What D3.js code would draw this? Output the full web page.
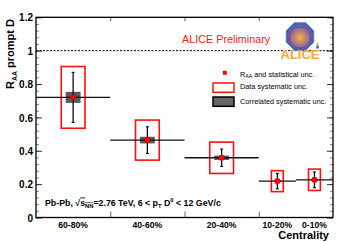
<!DOCTYPE html>
<html lang="en">
  <head>
    <meta charset="utf-8">
    <title>ALICE prompt D RAA vs centrality</title>
    <script type="text/javascript" src="https://d3js.org/d3.v7.min.js"></script>
    <style type="text/css">
    body {
      margin: 0;
      background: white;
    }
    text {
      font-family: "Liberation Sans", Arial, sans-serif;
    }
    .tick text {
      font-family: "Liberation Sans", Arial, sans-serif;
      font-size: 10px;
      font-weight: bold;
    }
    .axis path {
      display: none;
    }
    </style>
  </head>
  <body>
    <svg width="357" height="242" id="chart"></svg>

    <script type="text/javascript">

    // centrality classes (percent)
    const classLabels = ["60-80%", "40-60%", "20-40%", "10-20%", "0-10%"];
    const binLow = [60, 40, 20, 10, 0];
    const binHigh = [80, 60, 40, 20, 10];

    // R_AA and uncertainties
    const raa = [0.72, 0.464, 0.358, 0.218, 0.226];
    const statErr = [0.15, 0.08, 0.052, 0.046, 0.047];
    const sysErr = [0.185, 0.12, 0.094, 0.063, 0.064];
    const corrErr = [0.033, 0.02, 0.013, 0.005, 0.005];

    const yMajor = [0, 0.2, 0.4, 0.6, 0.8, 1, 1.2];
    const yMinor = d3.range(0, 1.2001, 0.04);
    const xTicks = [60, 40, 20];

    const mLeft = 36, mRight = 333, mTop = 17.3, mBottom = 217.5;

    const xScale = d3.scaleLinear()
        .domain([80, 0])
        .range([mLeft, mRight]);

    const yScale = d3.scaleLinear()
        .domain([0, 1.2])
        .range([mBottom, mTop]);

    const svg = d3.select("#chart");

    const dataset = classLabels.map((c, i) => ({
      label: c,
      lo: binLow[i],
      hi: binHigh[i],
      mid: (binLow[i] + binHigh[i]) / 2,
      v: raa[i],
      stat: statErr[i],
      sys: sysErr[i],
      corr: corrErr[i]
    }));

    // gradients for the logo
    const defs = svg.append("defs");
    const og = defs.append("radialGradient").attr("id", "octg");
    og.append("stop").attr("offset", "0%").attr("stop-color", "#9aa6d8");
    og.append("stop").attr("offset", "100%").attr("stop-color", "#3d5cae");
    const cg = defs.append("radialGradient").attr("id", "circg");
    cg.append("stop").attr("offset", "0%").attr("stop-color", "#ffb030");
    cg.append("stop").attr("offset", "45%").attr("stop-color", "#c98a6a");
    cg.append("stop").attr("offset", "100%").attr("stop-color", "#6f6fa8");

    // axes: minor and major ticks on all sides
    svg.append("g")
        .attr("class", "axis")
        .attr("transform", "translate(" + mLeft + ",0)")
        .call(d3.axisLeft(yScale).tickValues(yMinor).tickSize(-3).tickFormat(""))
        .selectAll("line").attr("stroke", "#888");

    svg.append("g")
        .attr("class", "axis")
        .attr("transform", "translate(" + mRight + ",0)")
        .call(d3.axisRight(yScale).tickValues(yMinor).tickSize(-3).tickFormat(""))
        .selectAll("line").attr("stroke", "#888");

    const yAxisL = svg.append("g")
        .attr("class", "axis")
        .attr("transform", "translate(" + mLeft + ",0)")
        .call(d3.axisLeft(yScale).tickValues(yMajor).tickSizeInner(-6).tickSizeOuter(0)
          .tickPadding(3).tickFormat(d => d3.format("~g")(d)));
    yAxisL.selectAll("line").attr("stroke", "#333");
    yAxisL.selectAll("text").attr("fill", "black").attr("dy", "0.36em");

    svg.append("g")
        .attr("class", "axis")
        .attr("transform", "translate(" + mRight + ",0)")
        .call(d3.axisRight(yScale).tickValues(yMajor).tickSize(-6).tickFormat(""))
        .selectAll("line").attr("stroke", "#333");

    svg.append("g")
        .attr("class", "axis")
        .attr("transform", "translate(0," + mBottom + ")")
        .call(d3.axisBottom(xScale).tickValues(xTicks).tickSize(-6).tickFormat(""))
        .selectAll("line").attr("stroke", "#666");

    svg.append("g")
        .attr("class", "axis")
        .attr("transform", "translate(0," + mTop + ")")
        .call(d3.axisTop(xScale).tickValues(xTicks).tickSize(-4).tickFormat(""))
        .selectAll("line").attr("stroke", "#666");

    // frame
    svg.append("rect")
        .attr("x", mLeft)
        .attr("y", mTop)
        .attr("width", mRight - mLeft)
        .attr("height", mBottom - mTop)
        .attr("fill", "none")
        .attr("stroke", "black")
        .attr("stroke-width", 1.3);

    // R_AA = 1 reference
    svg.append("line")
        .attr("x1", mLeft)
        .attr("x2", mRight)
        .attr("y1", yScale(1))
        .attr("y2", yScale(1))
        .attr("stroke", "black")
        .attr("stroke-width", 1)
        .attr("stroke-dasharray", "2,1.5");

    // data systematic boxes
    svg.selectAll("rect.sys")
        .data(dataset)
        .enter()
        .append("rect")
        .attr("class", "sys")
        .attr("x", d => xScale(d.mid) - 0.16 * (xScale(d.lo) - xScale(d.hi)))
        .attr("width", d => 0.32 * (xScale(d.lo) - xScale(d.hi)))
        .attr("y", d => yScale(d.v + d.sys))
        .attr("height", d => yScale(d.v - d.sys) - yScale(d.v + d.sys))
        .attr("fill", "none")
        .attr("stroke", "#ff1010")
        .attr("stroke-width", 1.6);

    // correlated systematic boxes
    svg.selectAll("rect.corr")
        .data(dataset)
        .enter()
        .append("rect")
        .attr("class", "corr")
        .attr("x", d => xScale(d.mid) - 0.1 * (xScale(d.lo) - xScale(d.hi)))
        .attr("width", d => 0.2 * (xScale(d.lo) - xScale(d.hi)))
        .attr("y", d => yScale(d.v + d.corr))
        .attr("height", d => yScale(d.v - d.corr) - yScale(d.v + d.corr))
        .attr("fill", "#5a5a5a");

    // horizontal bin width bars
    svg.selectAll("line.hbar")
        .data(dataset)
        .enter()
        .append("line")
        .attr("class", "hbar")
        .attr("x1", d => xScale(d.hi))
        .attr("x2", d => xScale(d.lo))
        .attr("y1", d => yScale(d.v))
        .attr("y2", d => yScale(d.v))
        .attr("stroke", "#111")
        .attr("stroke-width", 1.3);

    // statistical error bars
    svg.selectAll("line.vbar")
        .data(dataset)
        .enter()
        .append("line")
        .attr("class", "vbar")
        .attr("x1", d => xScale(d.mid))
        .attr("x2", d => xScale(d.mid))
        .attr("y1", d => yScale(d.v + d.stat))
        .attr("y2", d => yScale(d.v - d.stat))
        .attr("stroke", "#111")
        .attr("stroke-width", 1.3);

    [1, -1].forEach(s => {
      svg.selectAll("line.cap" + (s > 0 ? "u" : "d"))
          .data(dataset)
          .enter()
          .append("line")
          .attr("x1", d => xScale(d.mid) - 1.5)
          .attr("x2", d => xScale(d.mid) + 1.5)
          .attr("y1", d => yScale(d.v + s * d.stat))
          .attr("y2", d => yScale(d.v + s * d.stat))
          .attr("stroke", "#111")
          .attr("stroke-width", 1.2);
    });

    // markers
    svg.selectAll("rect.pt")
        .data(dataset)
        .enter()
        .append("rect")
        .attr("class", "pt")
        .attr("x", d => xScale(d.mid) - 2.6)
        .attr("y", d => yScale(d.v) - 2.6)
        .attr("width", 5.2)
        .attr("height", 5.2)
        .attr("fill", "#ff0000");

    // category labels
    svg.selectAll("text.cat")
        .data(dataset)
        .enter()
        .append("text")
        .attr("class", "cat")
        .attr("x", d => xScale(d.mid))
        .attr("y", 227.5)
        .attr("text-anchor", "middle")
        .attr("font-size", "8.6px")
        .attr("font-weight", "bold")
        .text(d => d.label);

    svg.append("text")
        .attr("x", 329)
        .attr("y", 238.5)
        .attr("text-anchor", "end")
        .attr("font-size", "11px")
        .attr("font-weight", "bold")
        .text("Centrality");

    // y title
    const ytitle = svg.append("text")
        .attr("transform", "translate(14,19) rotate(-90)")
        .attr("text-anchor", "end")
        .attr("font-size", "11px")
        .attr("font-weight", "bold");
    ytitle.append("tspan").text("R");
    ytitle.append("tspan").attr("font-size", "7px").attr("dy", 3).text("AA");
    ytitle.append("tspan").attr("dy", -3).text(" prompt D");

    // ALICE Preliminary
    svg.append("text")
        .attr("x", 182)
        .attr("y", 43)
        .attr("font-size", "10.8px")
        .attr("fill", "#ff1a1a")
        .text("ALICE Preliminary");

    // logo
    const cx = 300, cy = 36.5, R = 15;
    const oct = d3.range(8).map(k => {
      const a = Math.PI / 8 + k * Math.PI / 4;
      return [cx + R * Math.cos(a), cy + R * Math.sin(a)];
    });
    svg.append("polygon")
        .attr("points", oct.map(p => p.join(",")).join(" "))
        .attr("fill", "url(#octg)")
        .attr("stroke", "#6b7fc4")
        .attr("stroke-width", 0.8);
    svg.append("circle")
        .attr("cx", cx)
        .attr("cy", cy + 1)
        .attr("r", 10.5)
        .attr("fill", "url(#circg)")
        .attr("stroke", "#e0204a")
        .attr("stroke-width", 1);
    svg.append("text")
        .attr("x", cx)
        .attr("y", 59)
        .attr("text-anchor", "middle")
        .attr("font-size", "13px")
        .attr("font-weight", "bold")
        .attr("fill", "#f9a83c")
        .text("ALICE");
    svg.append("circle")
        .attr("cx", 317.5)
        .attr("cy", 44)
        .attr("r", 1.2)
        .attr("fill", "#f0a040");
    svg.append("rect")
        .attr("x", 316)
        .attr("y", 45.5)
        .attr("width", 3)
        .attr("height", 3)
        .attr("fill", "#5a7ac0");

    // legend
    const lx = 213, tx = 240;
    svg.append("rect")
        .attr("x", 222.8).attr("y", 70.8).attr("width", 4).attr("height", 4)
        .attr("fill", "#ff0000");
    const l1 = svg.append("text").attr("x", tx).attr("y", 76.5).attr("font-size", "7.3px");
    l1.append("tspan").text("R");
    l1.append("tspan").attr("font-size", "5.2px").attr("dy", 1.5).text("AA");
    l1.append("tspan").attr("dy", -1.5).text(" and statistical unc.");

    svg.append("rect")
        .attr("x", lx).attr("y", 83).attr("width", 21).attr("height", 9.3)
        .attr("fill", "white").attr("stroke", "#ff1010").attr("stroke-width", 1.5);
    svg.append("text").attr("x", tx).attr("y", 88.5).attr("font-size", "7.3px")
        .text("Data systematic unc.");

    svg.append("rect")
        .attr("x", lx).attr("y", 97).attr("width", 21).attr("height", 9.3)
        .attr("fill", "#666").attr("stroke", "black").attr("stroke-width", 1.5);
    svg.append("text").attr("x", tx).attr("y", 104).attr("font-size", "7.3px")
        .text("Correlated systematic unc.");

    // collision system text
    const sysText = svg.append("text")
        .attr("x", 45)
        .attr("y", 205.5)
        .attr("font-size", "8.8px")
        .attr("font-weight", "bold");
    sysText.append("tspan").text("Pb-Pb, \u221A");
    sysText.append("tspan").style("text-decoration", "overline").text("s");
    sysText.append("tspan").attr("font-size", "5.8px").attr("dy", 2)
        .style("text-decoration", "overline").text("NN");
    sysText.append("tspan").attr("dy", -2).text("=2.76 TeV, 6 < p");
    sysText.append("tspan").attr("font-size", "5.8px").attr("dy", 2).text("T");
    sysText.append("tspan").attr("dy", -2).text(" D");
    sysText.append("tspan").attr("font-size", "5.8px").attr("dy", -3.5).text("0");
    sysText.append("tspan").attr("dy", 3.5).text(" < 12 GeV/c");

    </script>
  </body>
</html>
